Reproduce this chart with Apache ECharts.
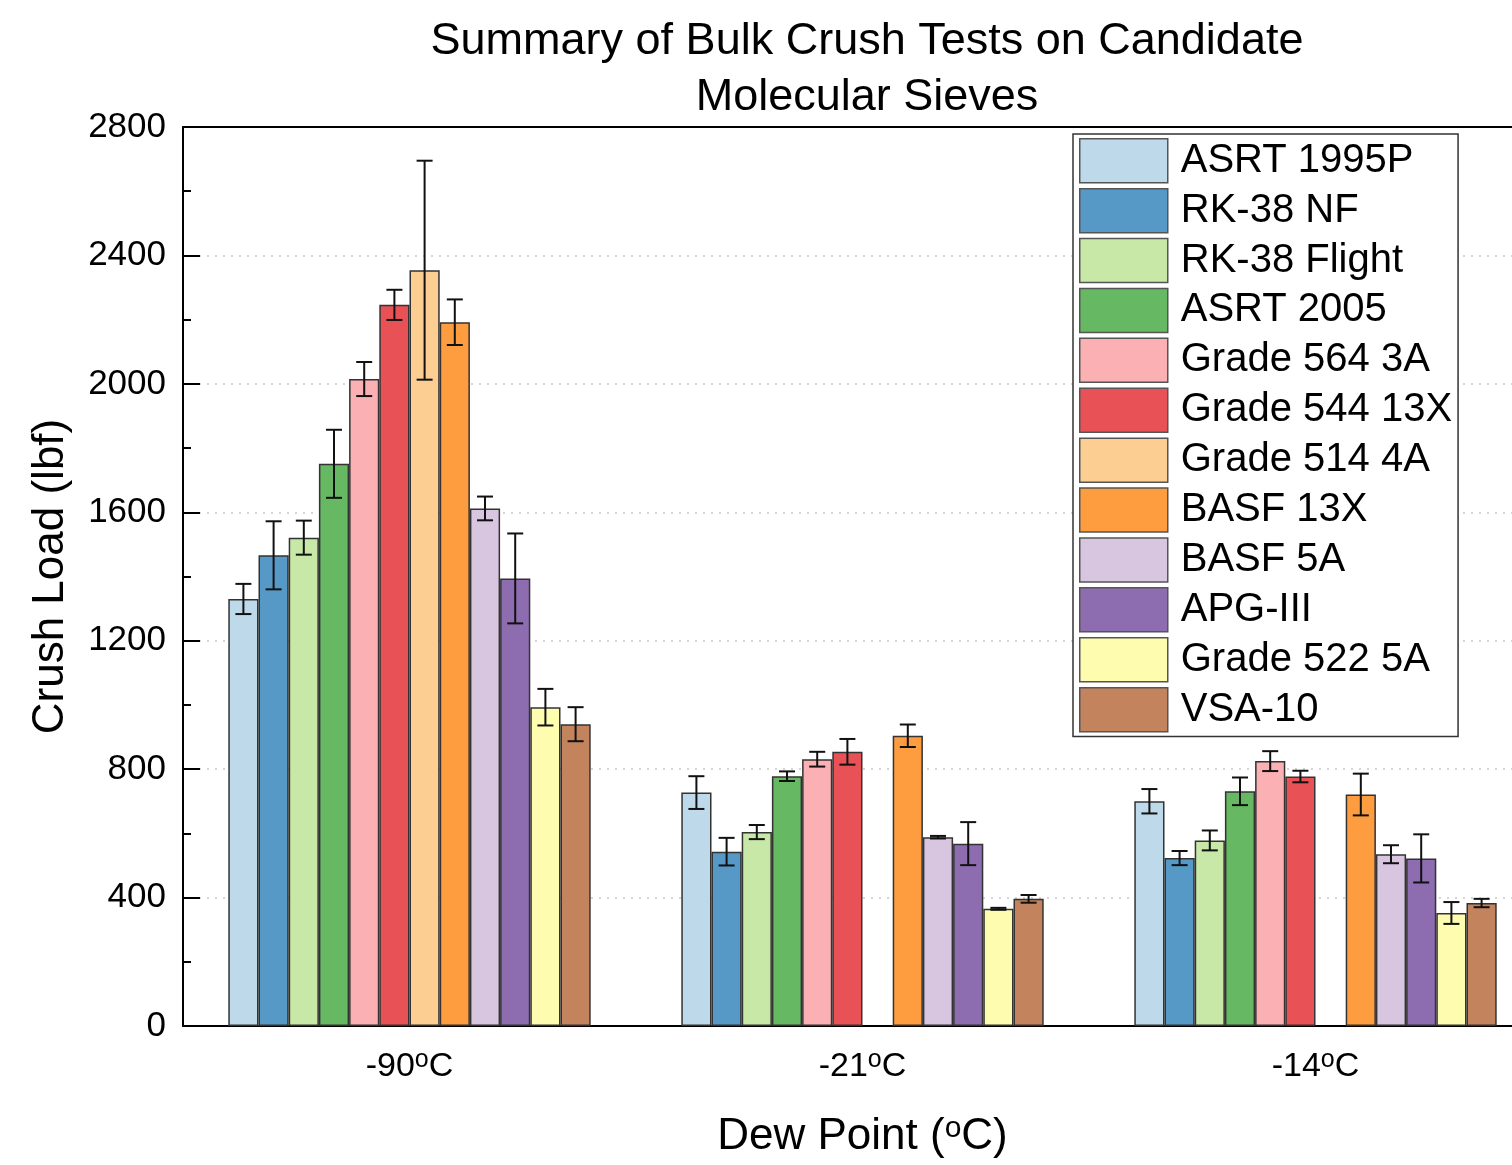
<!DOCTYPE html>
<html>
<head>
<meta charset="utf-8">
<script src="https://cdn.jsdelivr.net/npm/echarts@6/dist/echarts.min.js"></script>
<style>
  html, body { margin: 0; padding: 0; background: #fff; }
  #chart { width: 1512px; height: 1165px; }
</style>
</head>
<body>
<div id="chart"></div>
<script>
const categories = ['-90', '-21', '-14'];
const materials = ['ASRT 1995P', 'RK-38 NF', 'RK-38 Flight', 'ASRT 2005', 'Grade 564 3A', 'Grade 544 13X',
  'Grade 514 4A', 'BASF 13X', 'BASF 5A', 'APG-III', 'Grade 522 5A', 'VSA-10'];
const colors = ['#bedaea', '#5699c6', '#c8e8a8', '#66b862', '#fbb1b3', '#e85155',
  '#fdce92', '#fe9d3f', '#d8c5df', '#8e6cb0', '#fefcaf', '#c3835c'];

// mean crush load per dew point, in material order (null = not tested)
const load90 = [1330, 1466, 1521, 1751, 2015, 2246, 2354, 2192, 1612, 1394, 993, 940];
const load21 = [727, 543, 604, 778, 831, 854, null, 904, 588, 568, 365, 396];
const load14 = [700, 523, 578, 731, 825, 777, null, 721, 535, 522, 352, 383];
// error bar half-widths
const err90 = [47, 106, 53, 106, 53, 47, 341, 71, 37, 140, 57, 53];
const err21 = [51, 43, 22, 15, 23, 40, null, 35, 4, 67, 3, 12];
const err14 = [38, 22, 31, 43, 31, 18, null, 65, 28, 75, 34, 13];

const loads = [load90, load21, load14];
const errs = [err90, err21, err14];
const N = materials.length;
const GAP = 0.2;

const font = 'Liberation Sans, Arial, sans-serif';

const barSeries = materials.map((name, k) => ({
  name,
  type: 'bar',
  barGap: 0,
  barCategoryGap: GAP * 100 + '%',
  data: loads.map(arr => arr[k]),
  itemStyle: { color: colors[k], borderColor: '#333', borderWidth: 1.5 },
  emphasis: { disabled: true },
  z: 2
}));

const errData = [];
loads.forEach((arr, c) => {
  arr.forEach((v, k) => {
    if (v == null) return;
    errData.push([c, v - errs[c][k], v + errs[c][k], k]);
  });
});

const errSeries = {
  type: 'custom',
  name: 'err',
  data: errData,
  encode: { x: 0, y: [1, 2] },
  z: 5,
  silent: true,
  renderItem(params, api) {
    const c = api.value(0), lo = api.value(1), hi = api.value(2), k = api.value(3);
    const band = api.size([1, 0])[0];
    const bw = band * (1 - GAP) / N;
    const x = api.coord([c, 0])[0] - band * (1 - GAP) / 2 + bw * (k + 0.5);
    const y1 = api.coord([c, lo])[1];
    const y2 = api.coord([c, hi])[1];
    const cap = 8;
    const style = { stroke: '#111', lineWidth: 2, fill: null };
    return {
      type: 'group',
      children: [
        { type: 'line', shape: { x1: x, y1: y1, x2: x, y2: y2 }, style },
        { type: 'line', shape: { x1: x - cap, y1: y1, x2: x + cap, y2: y1 }, style },
        { type: 'line', shape: { x1: x - cap, y1: y2, x2: x + cap, y2: y2 }, style }
      ]
    };
  }
};

const chart = echarts.init(document.getElementById('chart'));
chart.setOption({
  animation: false,
  backgroundColor: '#fff',
  title: {
    text: 'Summary of Bulk Crush Tests on Candidate\nMolecular Sieves',
    left: 862,
    top: 9,
    textAlign: 'center',
    textStyle: { fontFamily: font, fontSize: 45, fontWeight: 'normal', color: '#000', lineHeight: 56 }
  },
  legend: {
    data: materials,
    orient: 'vertical',
    left: 1073,
    top: 134,
    padding: [4, 6, 4, 6],
    icon: 'rect',
    itemWidth: 88,
    itemHeight: 44,
    itemGap: 4.4,
    borderColor: '#333',
    borderWidth: 1.5,
    backgroundColor: '#fff',
    selectedMode: false,
    itemStyle: { borderColor: '#555', borderWidth: 1.5 },
    textStyle: { fontFamily: font, fontSize: 40, lineHeight: 44, color: '#000', padding: [0, 0, 0, 8] }
  },
  grid: {
    left: 183,
    width: 1359,
    top: 127,
    bottom: 139,
    outerBoundsMode: 'none',
    containLabel: false
  },
  xAxis: [{
    type: 'category',
    data: categories,
    name: 'Dew Point ({sup|o}C)',
    nameLocation: 'middle',
    nameGap: 88,
    nameTextStyle: {
      fontFamily: font, fontSize: 44, color: '#000',
      rich: { sup: { fontFamily: font, fontSize: 30, color: '#000', verticalAlign: 'top', padding: [0, 0, 16, 0] } }
    },
    axisLine: { lineStyle: { color: '#000', width: 2 } },
    axisTick: { show: false },
    axisLabel: {
      margin: 22,
      fontFamily: font, fontSize: 34, color: '#000',
      formatter: v => v + '{sup|o}C',
      rich: { sup: { fontFamily: font, fontSize: 25, color: '#000', verticalAlign: 'top', padding: [0, 0, 12, 0] } }
    },
    splitLine: { show: false }
  }, {
    type: 'category',
    data: categories,
    position: 'top',
    axisLine: { show: true, lineStyle: { color: '#000', width: 2 } },
    axisTick: { show: false },
    axisLabel: { show: false },
    splitLine: { show: false }
  }],
  yAxis: {
    type: 'value',
    min: 0,
    max: 2800,
    interval: 400,
    name: 'Crush Load (lbf)',
    nameLocation: 'middle',
    nameGap: 110,
    nameTextStyle: { fontFamily: font, fontSize: 44, color: '#000' },
    axisLine: { show: true, lineStyle: { color: '#000', width: 2 } },
    axisTick: { show: true, inside: true, length: 17, lineStyle: { color: '#000', width: 2 } },
    minorTick: { show: true, splitNumber: 2, length: 8, lineStyle: { color: '#000', width: 2 } },
    axisLabel: { margin: 17, fontFamily: font, fontSize: 35, color: '#000', formatter: v => String(v) },
    splitLine: { show: true, showMinLine: false, showMaxLine: false, lineStyle: { color: '#c8c8c8', type: [2, 6], width: 1.5 } }
  },
  series: [...barSeries, errSeries]
});
</script>
</body>
</html>
